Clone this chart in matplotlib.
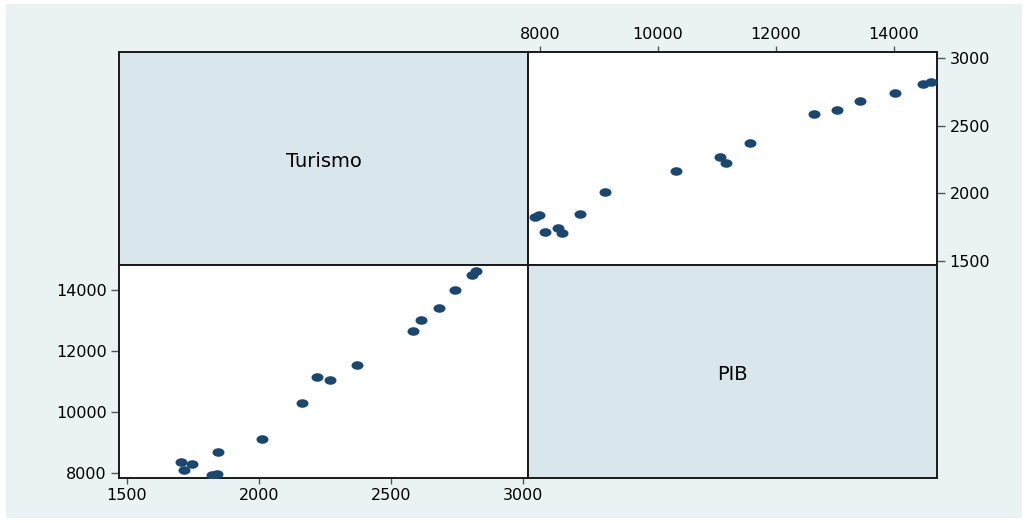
import numpy as np
import matplotlib
matplotlib.use("Agg")
import matplotlib.pyplot as plt
from matplotlib.markers import MarkerStyle
from matplotlib.transforms import Affine2D
from matplotlib.patches import Rectangle

# =========================
# dados
# =========================
pib = [7920, 7976, 8090, 8299, 8374, 8685, 9110, 10299, 11047, 11149,
       11557, 12644, 13030, 13426, 14009, 14491, 14627]
turismo = [1823, 1840, 1717, 1746, 1705, 1845, 2012, 2162, 2270, 2221,
           2371, 2583, 2614, 2681, 2742, 2806, 2821]

ticks_turismo = [1500, 2000, 2500, 3000]
ticks_pib = [8000, 10000, 12000, 14000]

# cores estilo stata s2color
BG = "#EAF2F3"
DIAG = "#D9E6EB"
NAVY = "#1A476F"

plt.rcParams['font.family'] = ['DejaVu Sans']

W, H = 1031, 523
fig = plt.figure(figsize=(W / 100, H / 100), dpi=100)
fig.patch.set_facecolor("white")
fig.patches.append(Rectangle((6 / W, 1 - 518 / H), 1016 / W, 514 / H,
                             transform=fig.transFigure, facecolor=BG,
                             edgecolor="none", zorder=-10))

x0, xm, x1 = 119, 528, 937
y0, ym, y1 = 52, 265, 478


def px_axes(left, top, right, bottom):
    return fig.add_axes([left / W, 1 - bottom / H, (right - left) / W, (bottom - top) / H])


def estilo(ax, fc):
    ax.set_facecolor(fc)
    for s in ax.spines.values():
        s.set_linewidth(1.4)
        s.set_color("#1a1a1a")
    ax.tick_params(axis='x', length=4, width=1, color="#555555", labelsize=11.5, pad=3.5)
    ax.tick_params(axis='y', length=6, width=1, color="#555555", labelsize=11.5, pad=3)


mk = MarkerStyle('o', transform=Affine2D().scale(1.4, 1.0))

# diagonal: Turismo
ax00 = px_axes(x0, y0, xm, ym)
estilo(ax00, DIAG)
ax00.set_xticks([])
ax00.set_yticks([])
ax00.text(0.5, 0.485, "Turismo", transform=ax00.transAxes, ha='center', va='center', fontsize=14)

# cima-direita: x = PIB, y = Turismo
ax01 = px_axes(xm, y0, x1, ym)
estilo(ax01, "white")
ax01.scatter(pib, turismo, marker=mk, s=38, color=NAVY, linewidths=0, zorder=3)
ax01.set_xlim(7797, 14729)
ax01.set_ylim(1470, 3044)
ax01.set_xticks(ticks_pib)
ax01.set_yticks(ticks_turismo)
ax01.xaxis.tick_top()
ax01.yaxis.tick_right()

# baixo-esquerda: x = Turismo, y = PIB
ax10 = px_axes(x0, ym, xm, y1)
estilo(ax10, "white")
ax10.scatter(turismo, pib, marker=mk, s=38, color=NAVY, linewidths=0, zorder=3)
ax10.set_xlim(1470, 3019)
ax10.set_ylim(7836, 14820)
ax10.set_xticks(ticks_turismo)
ax10.set_yticks(ticks_pib)

# diagonal: PIB
ax11 = px_axes(xm, ym, x1, y1)
estilo(ax11, DIAG)
ax11.set_xticks([])
ax11.set_yticks([])
ax11.text(0.5, 0.485, "PIB", transform=ax11.transAxes, ha='center', va='center', fontsize=14)

fig.savefig("out.png", dpi=100, facecolor=fig.get_facecolor())
